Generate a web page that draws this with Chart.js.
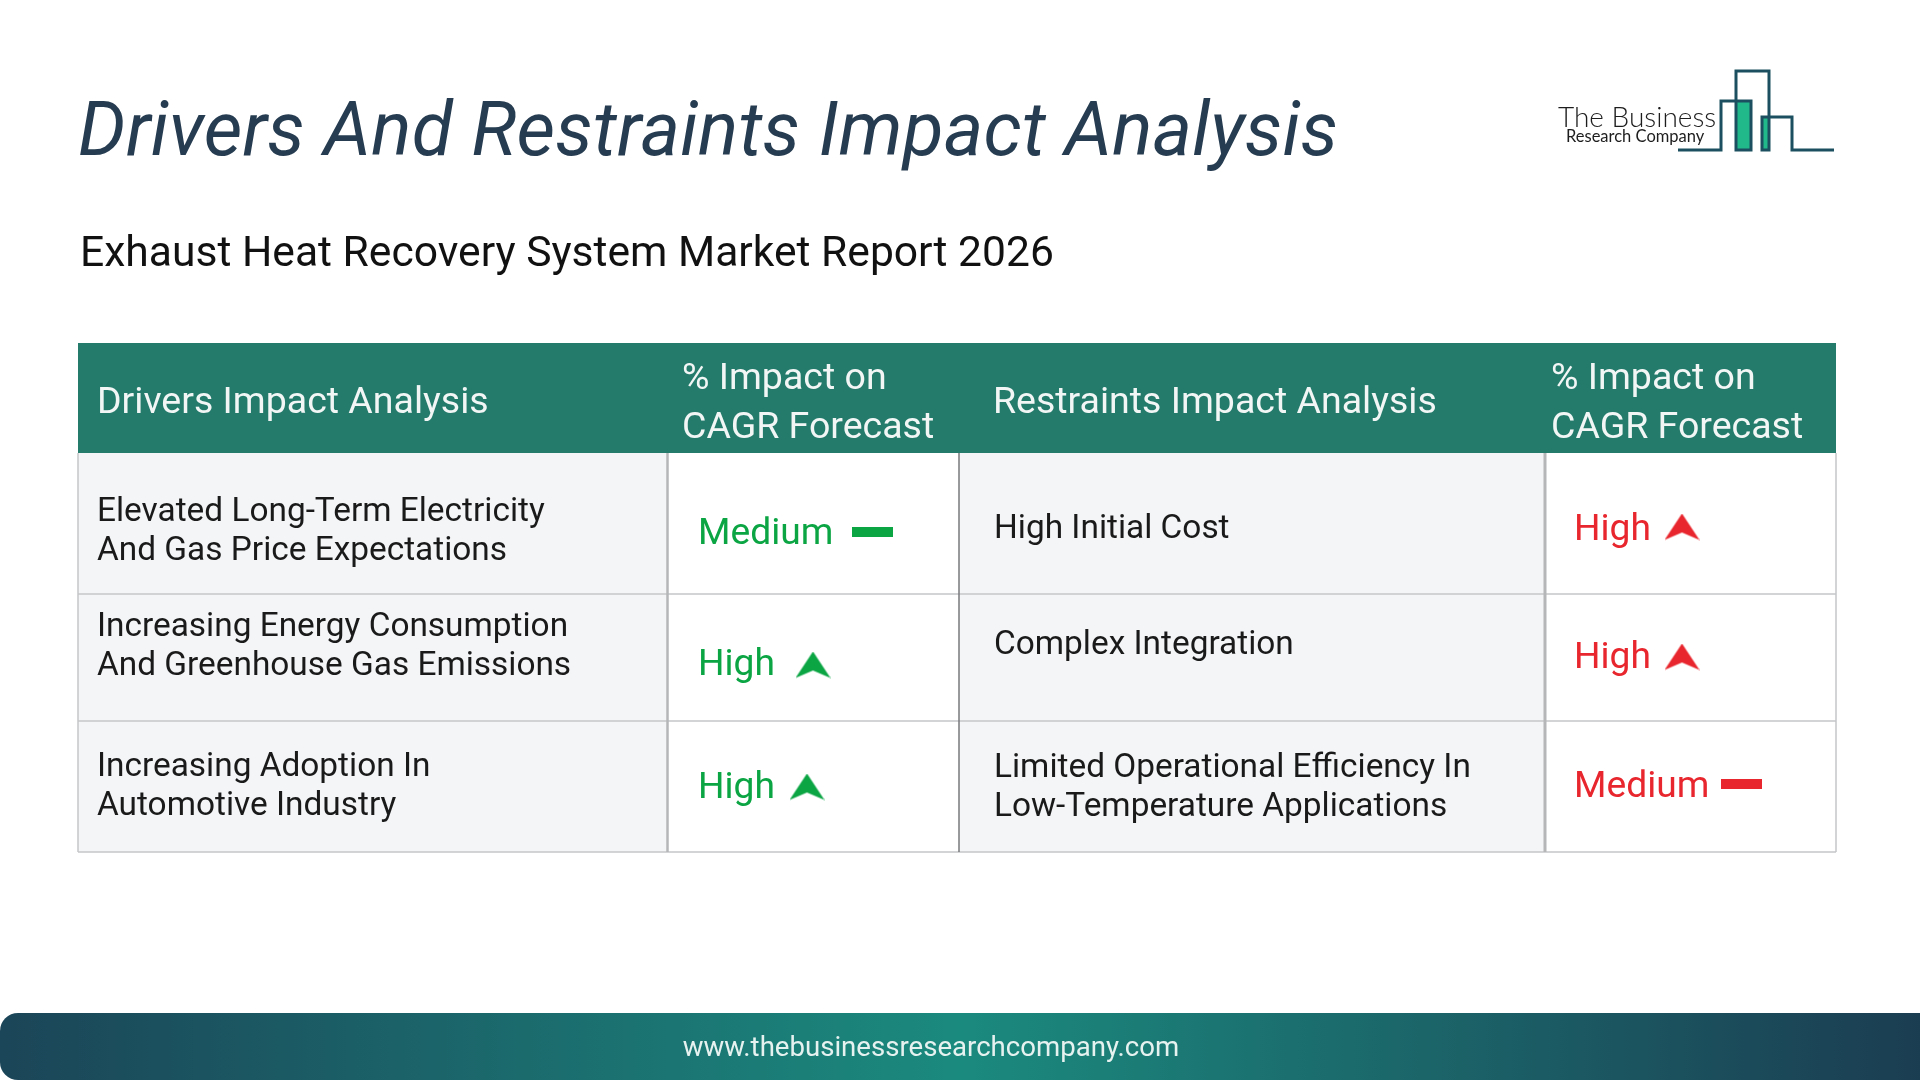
<!DOCTYPE html>
<html>
<head>
<meta charset="utf-8">
<title>Drivers And Restraints Impact Analysis</title>
<script src="https://cdn.jsdelivr.net/npm/chart.js@4"></script>
<style>
  html, body { margin: 0; padding: 0; background: #fff; overflow: hidden; }
  canvas { display: block; }
</style>
</head>
<body>
<canvas id="tabla" width="1920" height="1080"></canvas>
<script>
// Datos de la tabla
const titulo = 'Drivers And Restraints Impact Analysis';
const subtitulo = 'Exhaust Heat Recovery System Market Report 2026';
const encabezados = ['Drivers Impact Analysis', '% Impact on\nCAGR Forecast', 'Restraints Impact Analysis', '% Impact on\nCAGR Forecast'];
const drivers = [
    'Elevated Long-Term Electricity\nAnd Gas Price Expectations',
    'Increasing Energy Consumption\nAnd Greenhouse Gas Emissions',
    'Increasing Adoption In\nAutomotive Industry'
];
const impactoDrivers = ['Medium', 'High', 'High'];
const restraints = [
    'High Initial Cost',
    'Complex Integration',
    'Limited Operational Efficiency In\nLow-Temperature Applications'
];
const impactoRestraints = ['High', 'High', 'Medium'];
const web = 'www.thebusinessresearchcompany.com';

// Geometria de la pagina (separada de los datos)
const colX = [78, 667.5, 959, 1545, 1836];
const filaY = [343, 453, 594, 721, 852];
const centroDrivers = [532, 647.5, 787.5];
const centroRestraints = [530, 645.5, 788.5];
const textoImpactoDrivers = [535, 666, 788.5];
const textoImpactoRestraints = [530.5, 658.5, 787.5];
const iconoDrivers = [[872, 532], [813, 665], [807, 787]];
const iconoRestraints = [[1682, 527], [1682, 657], [1741, 784]];

const VERDE = '#0ba544';
const ROJO = '#e8262d';

// Crea el icono de impacto como canvas para usarlo de pointStyle
function crearIcono(nivel, color) {
    const c = document.createElement('canvas');
    const ctx = c.getContext('2d');
    if (nivel === 'High') {
        c.width = 35;
        c.height = 27;
        ctx.fillStyle = color;
        ctx.beginPath();
        ctx.moveTo(17.5, 0);
        ctx.lineTo(35, 26.5);
        ctx.lineTo(17.5, 19);
        ctx.lineTo(0, 26.5);
        ctx.closePath();
        ctx.fill();
    } else {
        c.width = 41;
        c.height = 10;
        ctx.fillStyle = color;
        ctx.fillRect(0, 0, 41, 10);
    }
    return c;
}

function puntos(iconos) {
    return iconos.map(p => ({ x: p[0], y: p[1] }));
}

function textoLineas(ctx, texto, x, yCentro, alto) {
    const lineas = texto.split('\n');
    lineas.forEach((l, i) => {
        ctx.fillText(l, x, yCentro + (i - (lineas.length - 1) / 2) * alto);
    });
}

// Plugin que pinta todo lo que no son marcas: titulo, tabla, logo y pie
const plugin = {
    id: 'tablaImpacto',
    beforeDatasetsDraw(chart) {
        const ctx = chart.ctx;
        const X = v => chart.scales.x.getPixelForValue(v);
        const Y = v => chart.scales.y.getPixelForValue(v);
        ctx.save();
        ctx.textBaseline = 'middle';
        ctx.textAlign = 'left';

        // Titulo
        ctx.fillStyle = '#263c50';
        ctx.font = 'italic 400 75px Roboto';
        ctx.letterSpacing = '0.2px';
        ctx.fillText(titulo, X(78), Y(136));
        ctx.fillStyle = '#111111';
        ctx.font = '400 42.6px Roboto';
        ctx.letterSpacing = '0px';
        ctx.fillText(subtitulo, X(80), Y(255));

        // Fondos de celdas
        ctx.fillStyle = '#f3f5f7';
        ctx.fillRect(X(colX[0]), Y(filaY[1]), X(colX[1]) - X(colX[0]), Y(filaY[4]) - Y(filaY[1]));
        ctx.fillRect(X(colX[2]), Y(filaY[1]), X(colX[3]) - X(colX[2]), Y(filaY[4]) - Y(filaY[1]));

        // Lineas
        ctx.strokeStyle = '#c4c6c8';
        ctx.lineWidth = 1.5;
        [filaY[2], filaY[3], filaY[4]].forEach(y => {
            ctx.beginPath();
            ctx.moveTo(X(colX[0]), Y(y));
            ctx.lineTo(X(colX[4]), Y(y));
            ctx.stroke();
        });
        [[colX[0], 1.5, '#c4c6c8'], [colX[1], 2.5, '#b4b6b8'], [colX[2], 1.5, '#77797b'], [colX[3], 3, '#b4b6b8'], [colX[4], 1.5, '#c4c6c8']].forEach(l => {
            ctx.strokeStyle = l[2];
            ctx.lineWidth = l[1];
            ctx.beginPath();
            ctx.moveTo(X(l[0]), Y(filaY[1]));
            ctx.lineTo(X(l[0]), Y(filaY[4]));
            ctx.stroke();
        });

        // Encabezado
        ctx.fillStyle = '#247a6b';
        ctx.fillRect(X(colX[0]), Y(filaY[0]), X(colX[4]) - X(colX[0]), Y(filaY[1]) - Y(filaY[0]));
        ctx.fillStyle = '#f2f7f6';
        ctx.font = '400 37.5px Roboto';
        const xEnc = [97, 682, 993, 1551];
        encabezados.forEach((t, i) => textoLineas(ctx, t, X(xEnc[i]), Y(404), 48.5));

        // Textos de filas
        ctx.fillStyle = '#1a1a1a';
        ctx.font = '400 33.4px Roboto';
        drivers.forEach((t, i) => textoLineas(ctx, t, X(97), Y(centroDrivers[i]), 39));
        restraints.forEach((t, i) => textoLineas(ctx, t, X(994), Y(centroRestraints[i]), 39));

        // Textos de impacto
        ctx.font = '400 37.2px Roboto';
        ctx.fillStyle = VERDE;
        impactoDrivers.forEach((t, i) => ctx.fillText(t, X(698), Y(textoImpactoDrivers[i])));
        ctx.fillStyle = ROJO;
        impactoRestraints.forEach((t, i) => ctx.fillText(t, X(1574), Y(textoImpactoRestraints[i])));

        // Pie
        const grad = ctx.createLinearGradient(X(0), 0, X(1920), 0);
        grad.addColorStop(0, '#1b4558');
        grad.addColorStop(0.5, '#1b8a7e');
        grad.addColorStop(1, '#1b3d52');
        ctx.fillStyle = grad;
        ctx.beginPath();
        ctx.roundRect(X(0), Y(1013), X(1920) - X(0), Y(1080) - Y(1013), [18, 0, 0, 18]);
        ctx.fill();
        ctx.fillStyle = '#e6f2f0';
        ctx.font = '400 27.6px Roboto';
        ctx.textAlign = 'center';
        ctx.fillText(web, X(931), Y(1049.5));
        ctx.textAlign = 'left';

        // Logo
        ctx.fillStyle = '#21b98a';
        ctx.fillRect(X(1736), Y(101), X(1751) - X(1736), Y(150) - Y(101));
        ctx.fillRect(X(1762), Y(118), X(1769) - X(1762), Y(150) - Y(118));
        ctx.strokeStyle = '#1c5060';
        ctx.lineWidth = 3;
        [
            [[1678, 150], [1721, 150], [1721, 101], [1751, 101], [1751, 150], [1736, 150], [1736, 71], [1769, 71], [1769, 150], [1762, 150], [1762, 117], [1792, 117], [1792, 150], [1834, 150]]
        ].forEach(tramo => {
            ctx.beginPath();
            tramo.forEach((p, i) => i ? ctx.lineTo(X(p[0]), Y(p[1])) : ctx.moveTo(X(p[0]), Y(p[1])));
            ctx.stroke();
        });
        ctx.fillStyle = '#1d1d1d';
        ctx.textBaseline = 'alphabetic';
        ctx.font = '300 28px Lato';
        ctx.fillText('The Business', X(1558), Y(127));
        ctx.font = '400 16.5px Lato';
        ctx.fillText('Research Company', X(1566), Y(142));
        ctx.restore();
    }
};

new Chart(document.getElementById('tabla').getContext('2d'), {
    type: 'scatter',
    data: {
        datasets: [
            {
                label: 'Drivers',
                data: puntos(iconoDrivers),
                pointStyle: impactoDrivers.map(n => crearIcono(n, VERDE)),
                showLine: false
            },
            {
                label: 'Restraints',
                data: puntos(iconoRestraints),
                pointStyle: impactoRestraints.map(n => crearIcono(n, ROJO)),
                showLine: false
            }
        ]
    },
    options: {
        responsive: false,
        devicePixelRatio: 1,
        animation: false,
        events: [],
        layout: { padding: 0, autoPadding: false },
        plugins: { legend: { display: false }, tooltip: { enabled: false } },
        scales: {
            x: { type: 'linear', display: false, min: 0, max: 1920 },
            y: { type: 'linear', display: false, min: 0, max: 1080, reverse: true }
        }
    },
    plugins: [plugin]
});
</script>
</body>
</html>
